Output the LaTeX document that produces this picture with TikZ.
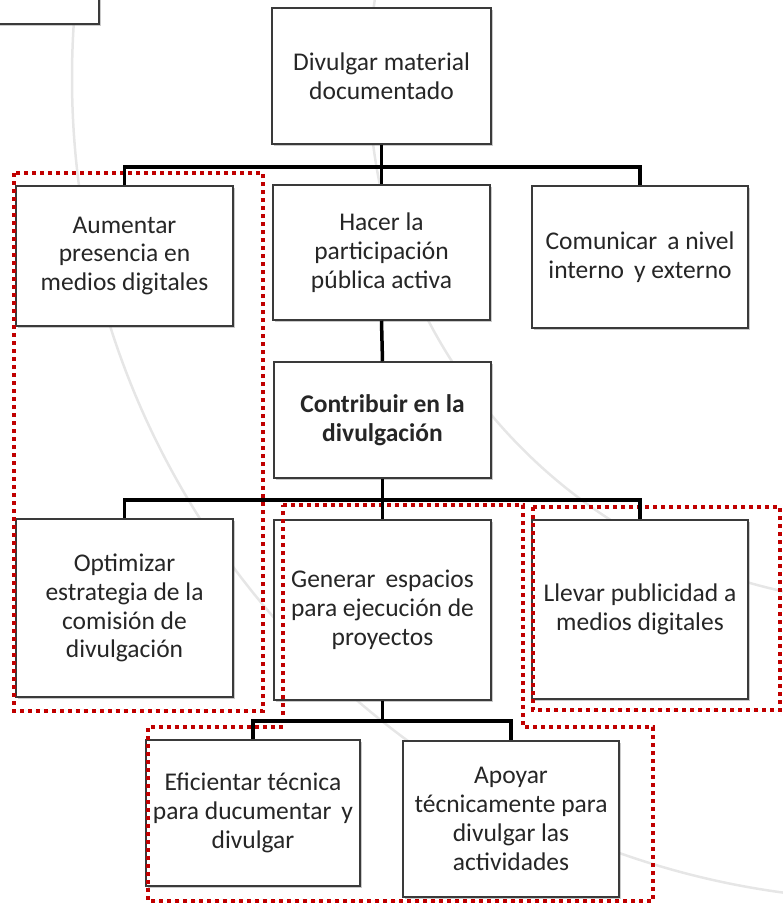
\documentclass[tikz,border=0pt]{standalone}
\usepackage{fontspec}
\setmainfont{Carlito}
\usetikzlibrary{shadows}
\definecolor{boxgray}{HTML}{3A3A3A}
\definecolor{dotred}{HTML}{C00000}
\definecolor{arcgray}{HTML}{E6E6E6}
\begin{document}
\begin{tikzpicture}[x=1pt,y=-1pt,
  box/.style={draw=boxgray, line width=1.5pt, fill=white, align=center,
    font=\fontsize{25.5}{28.8}\selectfont, inner sep=2pt, text=black!85,
    drop shadow={shadow xshift=2pt, shadow yshift=-2pt, opacity=0.35, fill=black!60}},
  conn/.style={line width=3.5pt, black, line join=miter},
  redbox/.style={draw=dotred, line width=3.5pt, dash pattern=on 4pt off 4pt},
  bgarc/.style={draw=arcgray, line width=2.5pt}]
\useasboundingbox (0,0) rectangle (783,903);
\begin{scope}
\clip (0,0) rectangle (783,903);
% background arcs
\draw[bgarc] (894,78) circle[radius=822pt];
\draw[bgarc] (894,78) circle[radius=525pt];
% boxes
\node[box, minimum width=119pt, minimum height=44pt] (tl) at (39.5,2) {};
\node[box, minimum width=219pt, minimum height=136pt] (d0) at (381.5,76) {Divulgar material\\documentado};
\node[box, minimum width=217pt, minimum height=140pt] (a1) at (124.5,256) {Aumentar\\presencia en\\medios digitales};
\node[box, minimum width=217pt, minimum height=135pt] (h1) at (381.5,252.5) {Hacer la\\participación\\pública activa};
\node[box, minimum width=216pt, minimum height=142pt] (c1) at (640,257) {Comunicar \,a nivel\\interno \,y externo};
\node[box, minimum width=217pt, minimum height=116pt] (k) at (382.5,420) {\bfseries Contribuir en la\\\bfseries divulgación};
\node[box, minimum width=217pt, minimum height=178pt] (o) at (124.5,608) {Optimizar\\estrategia de la\\comisión de\\divulgación};
\node[box, minimum width=217pt, minimum height=180pt] (g) at (382.5,610) {Generar \,espacios\\para ejecución de\\proyectos};
\node[box, minimum width=216pt, minimum height=179pt] (l) at (640,609.5) {Llevar publicidad a\\medios digitales};
\node[box, minimum width=214pt, minimum height=146pt] (e) at (253,813) {Eficientar técnica\\para ducumentar \,y\\divulgar};
\node[box, minimum width=216pt, minimum height=156pt] (ap) at (511,819) {Apoyar\\técnicamente para\\divulgar las\\actividades};
% red dotted groupings
\draw[redbox] (14,173) rectangle (263,711);
\draw[redbox] (283,505) -- (523,505) -- (523,727) -- (653,727) -- (653,901)
  -- (148,901) -- (148,727) -- (283,727) -- cycle;
\draw[redbox] (533,507) rectangle (780,710);
% connectors
\draw[conn] (d0.south) -- ++(0,22) coordinate (b1);
\draw[conn] (a1.north) |- (b1) -| (c1.north);
\draw[conn] (b1) -- (h1.north);
\draw[conn] (h1.south) -- (k.north);
\draw[conn] (k.south) -- ++(0,21) coordinate (b2);
\draw[conn] (o.north) |- (b2) -| (l.north);
\draw[conn] (b2) -- (g.north);
\draw[conn] (g.south) -- ++(0,20) coordinate (b3);
\draw[conn] (e.north) |- (b3) -| (ap.north);
\end{scope}
\end{tikzpicture}
\end{document}
